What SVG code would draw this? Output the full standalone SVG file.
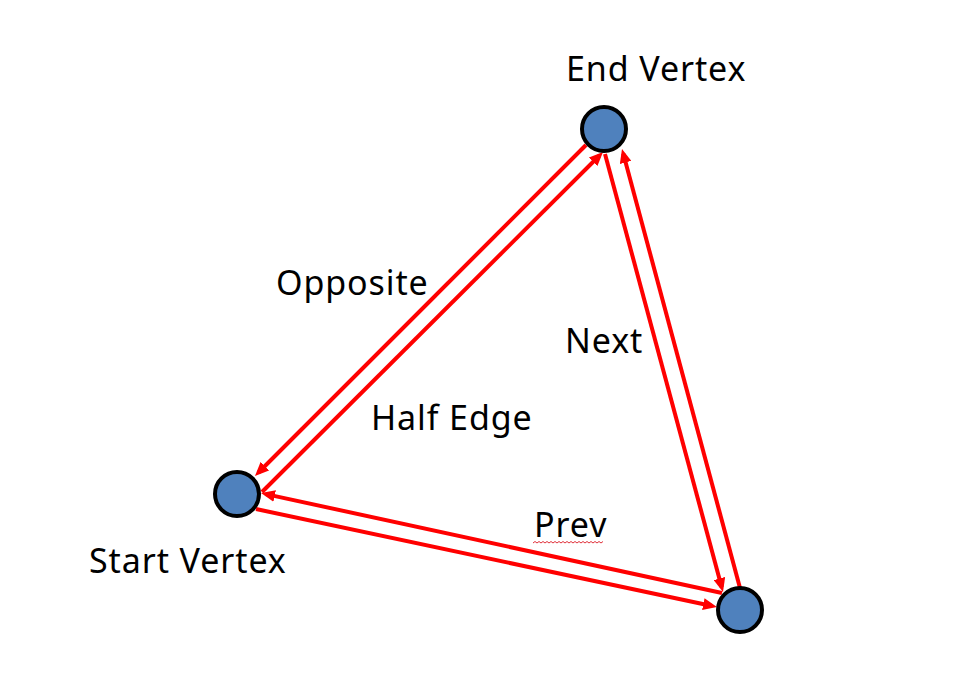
<svg xmlns="http://www.w3.org/2000/svg" width="958" height="690" viewBox="0 0 958 690">
<style>
.edge{stroke:#FF0000;stroke-width:4;fill:none;marker-end:url(#arr)}
.v{fill:#4F81BD;stroke:#000;stroke-width:4}
.t{font-family:"Noto Sans","Liberation Sans",sans-serif;font-size:34px;fill:#000;letter-spacing:0.9px}
</style>
<defs>
<marker id="arr" markerUnits="userSpaceOnUse" viewBox="0 0 14 12" markerWidth="14" markerHeight="12" refX="9" refY="6" orient="auto">
<path d="M0,0 L14,6 L0,12 z" fill="#FF0000"/>
</marker>
</defs>
<rect width="958" height="690" fill="#fff"/>
<g id="connectors">
<line class="edge" x1="586" y1="145" x2="258.5" y2="472.5"/>
<line class="edge" x1="262" y1="492" x2="599.5" y2="155.5"/>
<line class="edge" x1="605" y1="154" x2="721.7" y2="587.2"/>
<line class="edge" x1="740" y1="588" x2="623.3" y2="153.8"/>
<line class="edge" x1="722" y1="593" x2="265.9" y2="494.1"/>
<line class="edge" x1="256" y1="509" x2="712.1" y2="606"/>
</g>
<g id="end-vertex">
<circle class="v" cx="604" cy="129" r="22"/>
<text class="t" x="566" y="81">End Vertex</text>
</g>
<g id="start-vertex">
<circle class="v" cx="237" cy="494" r="22"/>
<text class="t" x="89" y="573">Start Vertex</text>
</g>
<g id="third-vertex">
<circle class="v" cx="740" cy="610" r="22"/>
</g>
<g id="labels">
<text class="t" x="276" y="295">Opposite</text>
<text class="t" x="371" y="430">Half Edge</text>
<text class="t" x="565" y="353">Next</text>
<text class="t" x="534" y="537">Prev</text>
<path d="M533,543 l2,-1.5 l2,1.5 l2,-1.5 l2,1.5 l2,-1.5 l2,1.5 l2,-1.5 l2,1.5 l2,-1.5 l2,1.5 l2,-1.5 l2,1.5 l2,-1.5 l2,1.5 l2,-1.5 l2,1.5 l2,-1.5 l2,1.5 l2,-1.5 l2,1.5 l2,-1.5 l2,1.5 l2,-1.5 l2,1.5 l2,-1.5 l2,1.5 l2,-1.5 l2,1.5 l2,-1.5 l2,1.5 l2,-1.5 l2,1.5 l2,-1.5 l2,1.5 l2,-1.5" fill="none" stroke="#E0303A" stroke-width="1"/>
</g>
</svg>
